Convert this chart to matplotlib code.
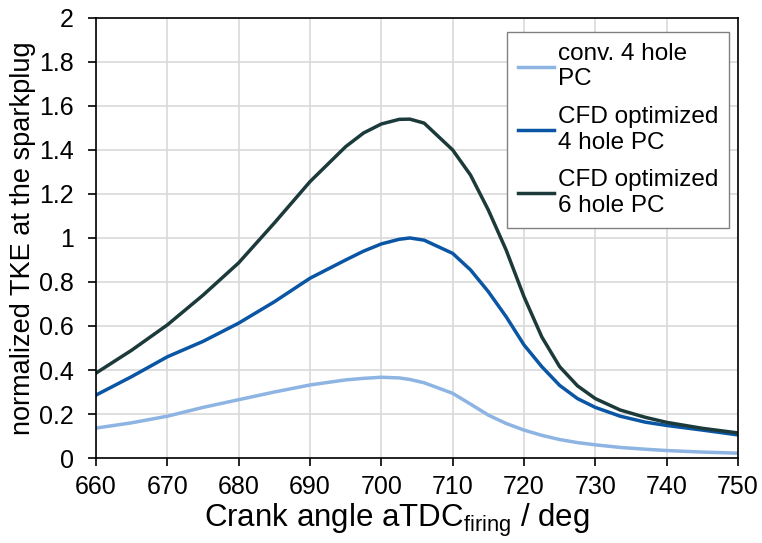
import matplotlib.pyplot as plt

plt.rcParams['font.family'] = ['Liberation Sans', 'DejaVu Sans']

# crank angle / deg
ca = [660, 665, 670, 675, 680, 685, 690, 695, 697.5, 700, 702.5, 704, 706,
      710, 712.5, 715, 717.5, 720, 722.5, 725, 727.5, 730, 733.5, 737, 740,
      745, 750]

conv4 = [0.136, 0.16, 0.19, 0.23, 0.265, 0.3, 0.332, 0.355, 0.362, 0.367,
         0.364, 0.357, 0.342, 0.294, 0.245, 0.195, 0.157, 0.127, 0.103, 0.084,
         0.07, 0.06, 0.048, 0.04, 0.034, 0.027, 0.022]
cfd4 = [0.286, 0.37, 0.46, 0.53, 0.613, 0.71, 0.817, 0.9, 0.94, 0.973, 0.994,
        1.0, 0.99, 0.93, 0.855, 0.756, 0.642, 0.514, 0.415, 0.33, 0.27,
        0.23, 0.19, 0.163, 0.148, 0.127, 0.105]
cfd6 = [0.386, 0.49, 0.605, 0.74, 0.887, 1.068, 1.256, 1.415, 1.477, 1.518,
        1.539, 1.54, 1.522, 1.40, 1.286, 1.127, 0.945, 0.733, 0.55, 0.415,
        0.328, 0.27, 0.218, 0.185, 0.162, 0.135, 0.114]

labels = ["conv. 4 hole\nPC", "CFD optimized\n4 hole PC", "CFD optimized\n6 hole PC"]
colors = ["#8db4e2", "#0a56a4", "#1c3a3a"]

fig = plt.figure(figsize=(7.62, 5.43), dpi=100)
ax = fig.add_axes([0.126, 0.1565, 0.8425, 0.8105])

for y, lab, c in zip([conv4, cfd4, cfd6], labels, colors):
    ax.plot(ca, y, color=c, lw=2.5, label=lab)

ax.set_xlim(660, 750)
ax.set_ylim(0, 2)
ax.set_xticks(range(660, 751, 10))
ax.set_yticks([0, 0.2, 0.4, 0.6, 0.8, 1, 1.2, 1.4, 1.6, 1.8, 2])
ax.set_yticklabels(["0", "0.2", "0.4", "0.6", "0.8", "1", "1.2", "1.4", "1.6", "1.8", "2"])
ax.grid(True, color="#d9d9d9", lw=1.2)
ax.set_axisbelow(True)
for s in ax.spines.values():
    s.set_color("black")
    s.set_linewidth(1.2)
ax.tick_params(direction="out", length=6, width=1.2, labelsize=18)
ax.tick_params(axis="x", pad=6)
ax.tick_params(axis="y", pad=10)

ax.set_xlabel(r"Crank angle aTDC$_{\mathregular{firing}}$ / deg", fontsize=22.5, labelpad=4)
ax.xaxis.set_label_coords(0.469, -0.1)
ax.set_ylabel("normalized TKE at the sparkplug", fontsize=19.5, labelpad=2)

leg = ax.legend(loc="upper right", fontsize=17.5, frameon=True, fancybox=False,
                edgecolor="#808080", framealpha=1, handlelength=1.5,
                handletextpad=0.15, labelspacing=0.65, borderpad=0.45,
                borderaxespad=0, bbox_to_anchor=(0.986, 0.968))
leg.get_frame().set_linewidth(1.0)

fig.savefig("out.png", dpi=100)
